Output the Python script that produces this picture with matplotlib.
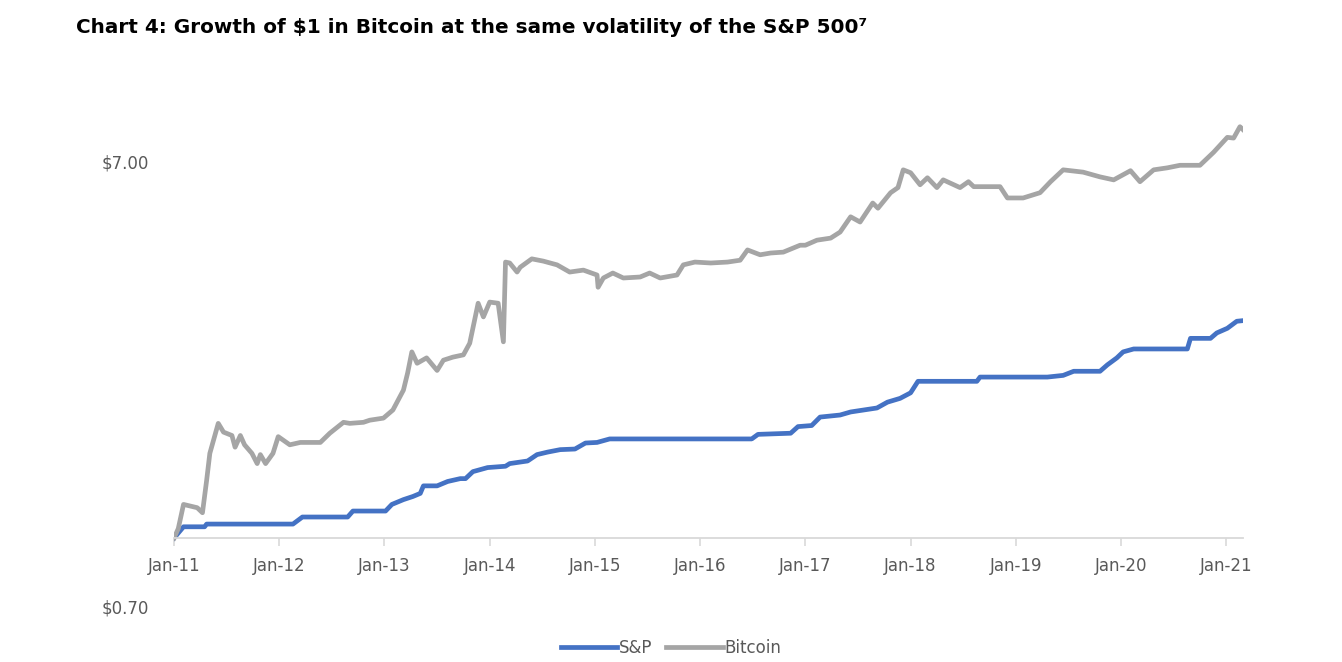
import matplotlib.pyplot as plt

# growth of $1 (decimal years, dollars)
sp_years = [2011.00, 2011.09, 2011.29, 2011.31, 2012.13, 2012.22, 2012.65, 2012.70, 2013.01,
            2013.07, 2013.18, 2013.27, 2013.34, 2013.37, 2013.50, 2013.60, 2013.72, 2013.77,
            2013.84, 2013.98, 2014.15, 2014.19, 2014.36, 2014.45, 2014.55, 2014.67, 2014.81,
            2014.91, 2015.02, 2015.14, 2016.49, 2016.55, 2016.86, 2016.93, 2017.06, 2017.14,
            2017.33, 2017.43, 2017.68, 2017.78, 2017.90, 2018.00, 2018.07, 2018.63, 2018.66,
            2019.30, 2019.45, 2019.55, 2019.80, 2019.87, 2019.96, 2020.02, 2020.12, 2020.63,
            2020.66, 2020.85, 2020.91, 2021.01, 2021.10, 2021.16]
sp_values = [1.00, 1.06, 1.06, 1.075, 1.075, 1.115, 1.115, 1.15, 1.15,
             1.19, 1.22, 1.24, 1.26, 1.31, 1.31, 1.34, 1.36, 1.36,
             1.41, 1.44, 1.45, 1.47, 1.49, 1.54, 1.56, 1.58, 1.585,
             1.635, 1.64, 1.67, 1.67, 1.71, 1.72, 1.78, 1.79, 1.87,
             1.89, 1.92, 1.96, 2.02, 2.06, 2.12, 2.25, 2.25, 2.30,
             2.30, 2.32, 2.37, 2.37, 2.45, 2.54, 2.62, 2.66, 2.66,
             2.81, 2.81, 2.89, 2.96, 3.07, 3.08]

btc_years = [2011.00, 2011.04, 2011.09, 2011.22, 2011.27, 2011.31, 2011.34, 2011.42, 2011.47,
             2011.55, 2011.58, 2011.63, 2011.67, 2011.74, 2011.79, 2011.82, 2011.87, 2011.94,
             2011.99, 2012.10, 2012.20, 2012.39, 2012.48, 2012.61, 2012.67, 2012.80, 2012.86,
             2012.99, 2013.08, 2013.18, 2013.22, 2013.26, 2013.31, 2013.40, 2013.50, 2013.56,
             2013.65, 2013.75, 2013.81, 2013.89, 2013.94, 2014.00, 2014.08, 2014.13, 2014.15,
             2014.19, 2014.26, 2014.29, 2014.40, 2014.51, 2014.64, 2014.76, 2014.89, 2015.02,
             2015.03, 2015.08, 2015.17, 2015.27, 2015.43, 2015.52, 2015.62, 2015.78, 2015.84,
             2015.95, 2016.10, 2016.26, 2016.38, 2016.45, 2016.57, 2016.67, 2016.79, 2016.95,
             2017.00, 2017.11, 2017.24, 2017.33, 2017.43, 2017.52, 2017.64, 2017.69, 2017.81,
             2017.88, 2017.93, 2018.00, 2018.09, 2018.16, 2018.25, 2018.31, 2018.47, 2018.55,
             2018.60, 2018.85, 2018.92, 2019.07, 2019.23, 2019.33, 2019.45, 2019.64, 2019.80,
             2019.93, 2020.09, 2020.18, 2020.31, 2020.44, 2020.56, 2020.75, 2020.88, 2021.01,
             2021.07, 2021.13, 2021.16]
btc_values = [1.00, 1.05, 1.19, 1.17, 1.14, 1.35, 1.55, 1.81, 1.73,
              1.70, 1.60, 1.70, 1.62, 1.55, 1.47, 1.54, 1.47, 1.55,
              1.69, 1.62, 1.64, 1.64, 1.72, 1.82, 1.81, 1.82, 1.84,
              1.86, 1.94, 2.15, 2.35, 2.62, 2.47, 2.54, 2.38, 2.51,
              2.55, 2.58, 2.74, 3.37, 3.14, 3.39, 3.37, 2.76, 4.17,
              4.15, 3.96, 4.06, 4.24, 4.19, 4.11, 3.96, 4.00, 3.90,
              3.66, 3.84, 3.94, 3.84, 3.86, 3.94, 3.84, 3.90, 4.11,
              4.17, 4.15, 4.17, 4.21, 4.44, 4.33, 4.37, 4.39, 4.55,
              4.55, 4.67, 4.72, 4.87, 5.27, 5.13, 5.66, 5.51, 5.97,
              6.13, 6.72, 6.62, 6.22, 6.45, 6.13, 6.38, 6.13, 6.32,
              6.16, 6.16, 5.81, 5.81, 5.97, 6.32, 6.72, 6.64, 6.48,
              6.38, 6.69, 6.32, 6.72, 6.79, 6.88, 6.88, 7.36, 7.95,
              7.92, 8.40, 8.27]

tick_years = list(range(2011, 2022))
tick_labels = [f"Jan-{y % 100:02d}" for y in tick_years]
y_ticks = [0.7, 7.0]
y_labels = ["\\$0.70", "\\$7.00"]

text_color = "#595959"

fig = plt.figure(figsize=(13.42, 6.62), dpi=100)
ax = fig.add_axes([0.1297, 0.0831, 0.7966, 0.7764])

ax.plot(sp_years, sp_values, color="#4472C4", lw=3.4, label="S&P", solid_joinstyle="round")
ax.plot(btc_years, btc_values, color="#A5A5A5", lw=3.4, label="Bitcoin", solid_joinstyle="round")

ax.set_yscale("log")
ax.set_ylim(0.7, 10)
ax.set_xlim(2011, 2021.16)
ax.set_yticks(y_ticks)
ax.set_yticklabels(y_labels)
ax.minorticks_off()
ax.set_xticks(tick_years)
ax.set_xticklabels(tick_labels)

for side in ["top", "right", "left"]:
    ax.spines[side].set_visible(False)
ax.spines["bottom"].set_position(("data", 1))
ax.spines["bottom"].set_color("#D9D9D9")
ax.spines["bottom"].set_linewidth(1.3)

ax.tick_params(axis="x", direction="out", length=6, color="#D9D9D9", width=1.2,
               labelsize=12, labelcolor=text_color, pad=8)
ax.tick_params(axis="y", length=0, labelsize=12, labelcolor=text_color, pad=18)

fig.text(0.057, 0.958, "Chart 4: Growth of \\$1 in Bitcoin at the same volatility of the S&P 500\u2077",
         fontsize=14.4, fontweight="bold", color="black", va="center", ha="left")

fig.legend(loc="center", bbox_to_anchor=(0.5, 0.021), ncol=2, frameon=False,
           fontsize=12, labelcolor=text_color, handlelength=3.4, handletextpad=0.1,
           columnspacing=0.8)

fig.savefig("out.png", dpi=100)
